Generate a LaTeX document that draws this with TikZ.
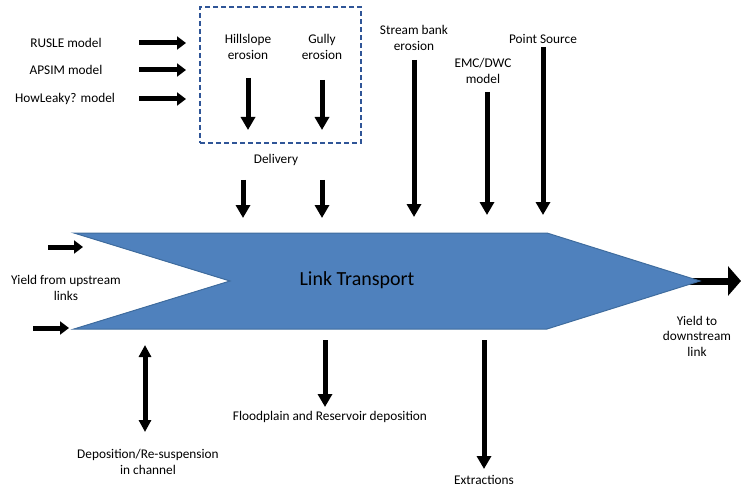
\documentclass[tikz,border=0pt]{standalone}
\usepackage{fontspec}
\setmainfont{Carlito}
\usetikzlibrary{arrows.meta,positioning}
\definecolor{azullink}{HTML}{4F81BD}
\definecolor{bordelink}{HTML}{3F6C9E}
\definecolor{azulcaja}{HTML}{2F5597}

\begin{document}
\begin{tikzpicture}[x=1pt, y=-1pt,
    etiqueta/.style={align=center, font=\fontsize{13.3}{15.5}\selectfont, inner sep=1pt},
    caja/.style={draw=azulcaja, dashed, dash pattern=on 5pt off 3pt, line width=1.3pt,
      minimum width=161pt, minimum height=136pt},
    flecha/.style={-{Triangle[length=13pt, width=14pt]}, line width=5pt},
    flechacorta/.style={-{Triangle[length=9pt, width=13pt]}, line width=5pt},
    flechadoble/.style={{Triangle[length=12pt, width=12pt]}-{Triangle[length=12pt, width=12pt]}, line width=5pt}
  ]
    \useasboundingbox (0,0) rectangle (741,489);

    % modelos de entrada
    \node[etiqueta] (rusle) at (66,43) {RUSLE model};
    \node[etiqueta] (apsim) at (66,70) {APSIM model};
    \node[etiqueta] (howleaky) at (65,99) {HowLeaky? model};
    \node[caja] (caja) at (280.5,75) {};
    \node[etiqueta] (hillslope) at (248,47) {Hillslope\\erosion};
    \node[etiqueta] (gully) at (322,47) {Gully\\erosion};
    \node[etiqueta] (delivery) at (276,160) {Delivery};
    \node[etiqueta] (streambank) at (414,38) {Stream bank\\erosion};
    \node[etiqueta] (emc) at (483,71) {EMC/DWC\\model};
    \node[etiqueta] (pointsource) at (543,39) {Point Source};

    % eslabon
    \draw[line width=7pt, -{Triangle[length=13pt, width=29pt]}] (680,281) coordinate (salida) -- (741,281) coordinate (destino);
    \draw[draw=bordelink, fill=azullink, line width=1pt]
      (74,233) coordinate (ai) -- (547,233) coordinate (ad) -- (700,281) coordinate (punta)
      -- (547,329) coordinate (bd) -- (74,329) coordinate (bi) -- (230,281) coordinate (muesca) -- cycle;
    \node[font=\fontsize{20}{24}\selectfont] (link) at (357,280) {Link Transport};

    \node[etiqueta] (upstream) at (66,288) {Yield from upstream\\links};
    \node[etiqueta] (downstream) at (697,336) {Yield to\\downstream\\link};
    \node[etiqueta] (floodplain) at (330,417) {Floodplain and Reservoir deposition};
    \node[etiqueta] (deposition) at (148,462) {Deposition/Re-suspension\\in channel};
    \node[etiqueta] (extractions) at (484,480) {Extractions};

    % puntos de las flechas
    \coordinate (m1) at (139,43);
    \coordinate (m2) at (139,70);
    \coordinate (m3) at (139,99);
    \coordinate (h1) at (248,78);
    \coordinate (h2) at (248,130);
    \coordinate (g1) at (322,80);
    \coordinate (g2) at (322,130);
    \coordinate (d1) at (243,180);
    \coordinate (d2) at (322,180);
    \coordinate (s1) at (414,60);
    \coordinate (e1) at (487,92);
    \coordinate (p1) at (543,47);
    \coordinate (u1) at (48,247);
    \coordinate (u2) at (33,328);
    \coordinate (r1) at (145,345);
    \coordinate (r2) at (145,432);
    \coordinate (f1) at (325,340);
    \coordinate (f2) at (325,407);
    \coordinate (x1) at (484,340);
    \coordinate (x2) at (484,469);

    \draw[flechacorta] (m1) -- (186,43);
    \draw[flechacorta] (m2) -- (186,70);
    \draw[flechacorta] (m3) -- (186,99);
    \draw[flecha] (h1) -- (h2);
    \draw[flecha] (g1) -- (g2);
    \draw[flecha, shorten >=15pt] (d1) -- (d1 |- ai);
    \draw[flecha, shorten >=15pt] (d2) -- (d2 |- ai);
    \draw[flecha, shorten >=16pt] (s1) -- (s1 |- ai);
    \draw[flecha, shorten >=18pt] (e1) -- (e1 |- ai);
    \draw[flecha, shorten >=18pt] (p1) -- (p1 |- ai);
    \draw[flechacorta] (u1) -- (83,247);
    \draw[flechacorta] (u2) -- (69,328);
    \draw[flechadoble] (r1) -- (r2);
    \draw[flecha] (f1) -- (f2);
    \draw[flecha] (x1) -- (x2);
  \end{tikzpicture}
\end{document}
